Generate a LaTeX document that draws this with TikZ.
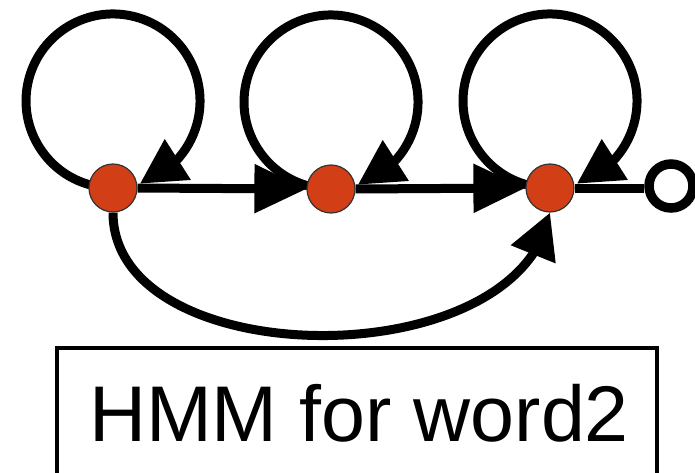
\documentclass[tikz,border=0pt]{standalone}
\usepackage{fontspec}
\setmainfont{Liberation Sans}
\usetikzlibrary{arrows.meta,bending,backgrounds}
\definecolor{statered}{RGB}{210,62,22}
\tikzset{
  state/.style={circle,fill=statered,draw=black!80,line width=1.2pt,minimum size=48pt,inner sep=0pt},
  finalstate/.style={circle,fill=white,draw=black,line width=9.5pt,minimum size=44pt,inner sep=0pt},
  edge/.style={draw=black,line width=9pt},
  bigtip/.style={-{Triangle[length=52pt,width=47pt]}},
  looptip/.style={-{Triangle[length=45pt,width=46pt,flex]}},
  labelbox/.style={draw=black,line width=3.5pt},
}
\begin{document}
\begin{tikzpicture}[x=1pt,y=1pt]
\useasboundingbox (0,0) rectangle (695,472);
\clip (0,0) rectangle (695,472);
\node[state] (n1) at (113,284) {};
\node[state] (n2) at (331,283) {};
\node[state] (n3) at (550,284) {};
\node[finalstate] (end) at (671,286) {};
\begin{scope}[on background layer]
  \draw[edge,looptip] (n1.center) ++(-22.5,3) arc[start angle=255,end angle=-72,radius=87];
  \draw[edge,looptip] (n2.center) ++(-22.5,3) arc[start angle=255,end angle=-72,radius=87];
  \draw[edge,looptip] (n3.center) ++(-22.5,3) arc[start angle=255,end angle=-72,radius=87];
  \draw[edge,bigtip] (n1.east) -- (n2.west);
  \draw[edge,bigtip] (n2.east) -- (n3.west);
  \draw[edge] (n3.east) -- (end.west |- n3.east);
  \draw[edge,looptip] (n1.south) .. controls (113,98) and (520,93) .. (n3.south);
\end{scope}
\draw[labelbox] (57,-30) rectangle (657,124);
\node[anchor=base,inner sep=0pt,font=\fontsize{79}{90}\selectfont] (label) at (359,31) {HMM for word2};
\end{tikzpicture}
\end{document}
